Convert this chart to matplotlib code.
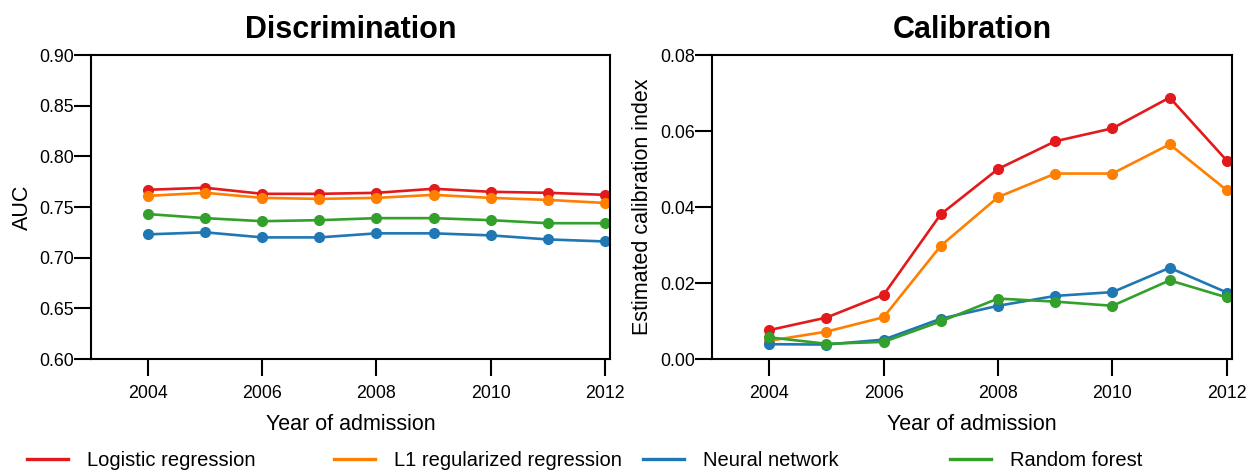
import numpy as np
import matplotlib
matplotlib.use("Agg")
import matplotlib.pyplot as plt

plt.rcParams['font.family'] = ['Liberation Sans', 'DejaVu Sans']

years = [2004, 2005, 2006, 2007, 2008, 2009, 2010, 2011, 2012]
models = ["Logistic regression", "L1 regularized regression", "Neural network", "Random forest"]
colors = ["#E31A1C", "#FF7F00", "#1F78B4", "#33A02C"]

# AUC per year
auc_lr = [0.767, 0.769, 0.763, 0.763, 0.764, 0.768, 0.765, 0.764, 0.762]
auc_l1 = [0.761, 0.764, 0.759, 0.758, 0.759, 0.762, 0.759, 0.757, 0.754]
auc_nn = [0.723, 0.725, 0.720, 0.720, 0.724, 0.724, 0.722, 0.718, 0.716]
auc_rf = [0.743, 0.739, 0.736, 0.737, 0.739, 0.739, 0.737, 0.734, 0.734]

# estimated calibration index per year
eci_lr = [0.0076, 0.0109, 0.0169, 0.0381, 0.0500, 0.0573, 0.0607, 0.0688, 0.0522]
eci_l1 = [0.0048, 0.0072, 0.0110, 0.0298, 0.0426, 0.0488, 0.0488, 0.0565, 0.0444]
eci_nn = [0.0039, 0.0038, 0.0051, 0.0106, 0.0140, 0.0166, 0.0176, 0.0240, 0.0175]
eci_rf = [0.0057, 0.0040, 0.0045, 0.0099, 0.0159, 0.0151, 0.0140, 0.0207, 0.0162]

auc = [auc_lr, auc_l1, auc_nn, auc_rf]
eci = [eci_lr, eci_l1, eci_nn, eci_rf]

W, H = 1249, 472
fig = plt.figure(figsize=(W/100, H/100), dpi=100)
ax1 = fig.add_axes([91/W, 1-359/H, 519/W, 304/H])
ax2 = fig.add_axes([712/W, 1-359/H, 520/W, 304/H])

def style(ax):
    for s in ax.spines.values():
        s.set_linewidth(1.5)
    ax.tick_params(direction='out', length=12, width=1.5, labelsize=12.8)
    ax.tick_params(axis='x', pad=7)
    ax.tick_params(axis='y', pad=0.5)
    ax.set_xlim(2003.0, 2012.09)
    ax.set_xticks([2004, 2006, 2008, 2010, 2012])
    ax.set_xlabel("Year of admission", fontsize=15.5, labelpad=8)

lines = []
for i in range(4):
    l, = ax1.plot(years, auc[i], color=colors[i], lw=1.9, marker='o', ms=7, label=models[i])
    ax2.plot(years, eci[i], color=colors[i], lw=1.9, marker='o', ms=7)
    lines.append(l)

style(ax1)
ax1.set_ylim(0.60, 0.90)
ax1.set_yticks(np.arange(0.60, 0.901, 0.05))
ax1.set_yticklabels(["%.2f" % v for v in np.arange(0.60, 0.901, 0.05)])
ax1.set_ylabel("AUC", fontsize=15.5, labelpad=4)
ax1.set_title("Discrimination", fontsize=22, fontweight='bold', pad=12)

style(ax2)
ax2.set_ylim(0.0, 0.08)
ax2.set_yticks(np.arange(0.0, 0.0801, 0.02))
ax2.set_yticklabels(["%.2f" % v for v in np.arange(0.0, 0.0801, 0.02)])
ax2.set_ylabel("Estimated calibration index", fontsize=15.5, labelpad=5)
ax2.set_title("Calibration", fontsize=22, fontweight='bold', pad=12)

# legend row, one entry per column at even spacing
xs = [27, 334, 643, 950]
for i in range(4):
    leg = fig.legend([lines[i]], [models[i]], loc='center left',
                     bbox_to_anchor=(xs[i]/W, 1-461/H), frameon=False,
                     fontsize=14.5, handlelength=2.05, handletextpad=0.95,
                     borderpad=0, borderaxespad=0)
    for h in leg.legend_handles:
        h.set_marker('')
        h.set_linewidth(2.4)

fig.savefig("out.png", dpi=100)
